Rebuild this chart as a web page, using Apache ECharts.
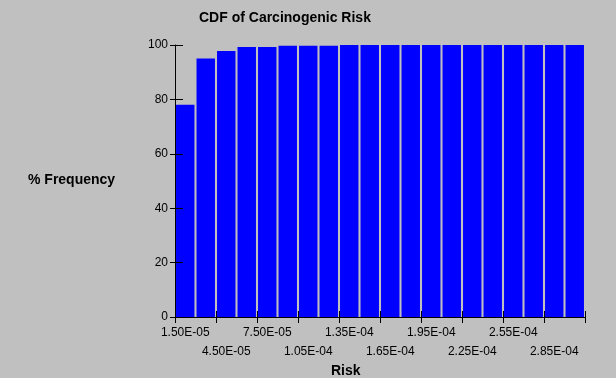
<!DOCTYPE html>
<html>
<head>
<meta charset="utf-8">
<script src="https://cdn.jsdelivr.net/npm/echarts@6/dist/echarts.min.js"></script>
<style>
  html, body { margin: 0; padding: 0; background: #c0c0c0; }
  #chart { width: 616px; height: 378px; }
</style>
</head>
<body>
<div id="chart"></div>
<script>
// bin values (risk), one per bar
const categories = [
  '1.50E-05', '3.00E-05', '4.50E-05', '6.00E-05', '7.50E-05',
  '9.00E-05', '1.05E-04', '1.20E-04', '1.35E-04', '1.50E-04',
  '1.65E-04', '1.80E-04', '1.95E-04', '2.10E-04', '2.25E-04',
  '2.40E-04', '2.55E-04', '2.70E-04', '2.85E-04', '3.00E-04'
];
// cumulative % frequency
const cdfValues = [
  78.0, 95.0, 97.8, 99.3, 99.3, 99.7, 99.7, 99.7, 100, 100,
  100, 100, 100, 100, 100, 100, 100, 100, 100, 100
];
const yTicks = [0, 20, 40, 60, 80, 100];

const chart = echarts.init(document.getElementById('chart'));
const font = 'Liberation Sans, Arial, sans-serif';

const labelStyle = { color: '#000', fontFamily: font, fontSize: 12, hideOverlap: false };

const option = {
  backgroundColor: '#c0c0c0',
  animation: false,
  graphic: [
    {
      type: 'text', left: 199, top: 11,
      style: { text: 'CDF of Carcinogenic Risk', font: 'bold 14px ' + font, fill: '#000' }
    },
    {
      type: 'text', left: 28, top: 173,
      style: { text: '% Frequency', font: 'bold 14px ' + font, fill: '#000' }
    },
    {
      type: 'text', left: 331, top: 364,
      style: { text: 'Risk', font: 'bold 14px ' + font, fill: '#000' }
    }
  ],
  grid: { left: 175, right: 31, top: 45, bottom: 61 },
  xAxis: [
    {
      // upper label row + outside ticks
      type: 'category',
      data: categories,
      z: 10,
      axisLine: { show: true, lineStyle: { color: '#000', width: 1 } },
      axisTick: { show: true, interval: (i) => i % 2 === 0, length: 6, lineStyle: { color: '#000' } },
      axisLabel: Object.assign({ interval: (i) => i % 4 === 0, margin: 10 }, labelStyle)
    },
    {
      // lower label row + inside ticks
      type: 'category',
      data: categories,
      position: 'bottom',
      z: 10,
      axisLine: { show: false },
      axisTick: { show: true, inside: true, interval: (i) => i % 2 === 0, length: 6, lineStyle: { color: '#000' } },
      axisLabel: Object.assign({ interval: (i) => i % 4 === 2, margin: 29 }, labelStyle)
    }
  ],
  yAxis: [
    {
      type: 'value',
      min: yTicks[0],
      max: yTicks[yTicks.length - 1],
      interval: 20,
      z: 10,
      axisLine: { show: true, lineStyle: { color: '#000' } },
      axisTick: { show: true, length: 5, lineStyle: { color: '#000' } },
      splitLine: { show: false },
      axisLabel: { margin: 7, color: '#000', fontFamily: font, fontSize: 12 }
    },
    {
      type: 'value',
      position: 'left',
      min: yTicks[0],
      max: yTicks[yTicks.length - 1],
      interval: 20,
      z: 10,
      axisLine: { show: false },
      axisTick: { show: true, inside: true, length: 8, lineStyle: { color: '#000' } },
      splitLine: { show: false },
      axisLabel: { show: false }
    }
  ],
  series: [
    {
      type: 'bar',
      data: cdfValues,
      xAxisIndex: 0,
      yAxisIndex: 0,
      barCategoryGap: '10%',
      itemStyle: { color: '#0000ff' }
    }
  ]
};

chart.setOption(option);
</script>
</body>
</html>
